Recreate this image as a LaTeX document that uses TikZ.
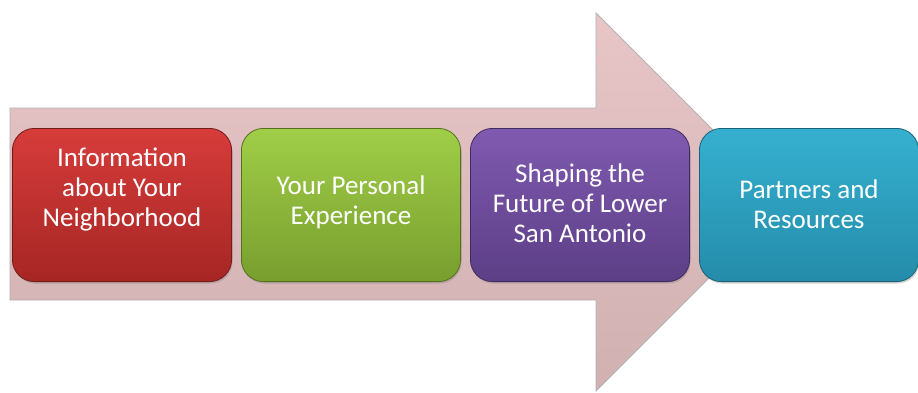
\documentclass[tikz,border=0pt]{standalone}
\usepackage{fontspec}
\setmainfont{Carlito}
\usetikzlibrary{positioning}
\usetikzlibrary{shadows}

\definecolor{arrowtop}{RGB}{232,198,200}
\definecolor{arrowbot}{RGB}{208,176,176}
\definecolor{redtop}{RGB}{214,60,58}
\definecolor{redbot}{RGB}{166,38,36}
\definecolor{greentop}{RGB}{160,206,72}
\definecolor{greenbot}{RGB}{120,158,46}
\definecolor{purpletop}{RGB}{128,90,176}
\definecolor{purplebot}{RGB}{92,62,134}
\definecolor{bluetop}{RGB}{54,176,208}
\definecolor{bluebot}{RGB}{36,140,170}

\begin{document}
\begin{tikzpicture}[x=1pt, y=-1pt,
    stepbox/.style={rounded corners=22pt, minimum width=219.2pt, minimum height=153.2pt, draw=#1bot!70!black, line width=0.8pt, top color=#1top, bottom color=#1bot, drop shadow={opacity=0.35, shadow xshift=1pt, shadow yshift=-2pt}},
    lbl/.style={text=white, align=center, font=\fontsize{27}{30}\selectfont, inner sep=0pt}]
        % Fix the picture size
        \useasboundingbox (0,0) rectangle (918,392);

        % Draw the big arrow behind the boxes
        \coordinate (a1) at (10,108);
        \coordinate (a2) at (596,108);
        \coordinate (a3) at (596,13);
        \coordinate (tip) at (785,202);
        \coordinate (a4) at (596,391);
        \coordinate (a5) at (596,300);
        \coordinate (a6) at (10,300);
        \draw[draw=black!30, line width=0.8pt, top color=arrowtop, bottom color=arrowbot] (a1) -- (a2) -- (a3) -- (tip) -- (a4) -- (a5) -- (a6) -- cycle;

        % Draw the four steps
        \node[stepbox=red] (info) at (122,205) {};
        \node[stepbox=green, right=9pt of info] (exp) {};
        \node[stepbox=purple, right=9pt of exp] (future) {};
        \node[stepbox=blue, right=9pt of future] (partners) {};

        % Put the texts on the steps
        \node[lbl] (t1) at ([yshift=16pt]info.center) {Information\\about Your\\Neighborhood};
        \node[lbl] (t2) at ([yshift=3pt]exp.center) {Your Personal\\Experience};
        \node[lbl] (t3) at ([yshift=2pt]future.center) {Shaping the\\Future of Lower\\San Antonio};
        \node[lbl] (t4) at ([yshift=1pt]partners.center) {Partners and\\Resources};
      \end{tikzpicture}
\end{document}
